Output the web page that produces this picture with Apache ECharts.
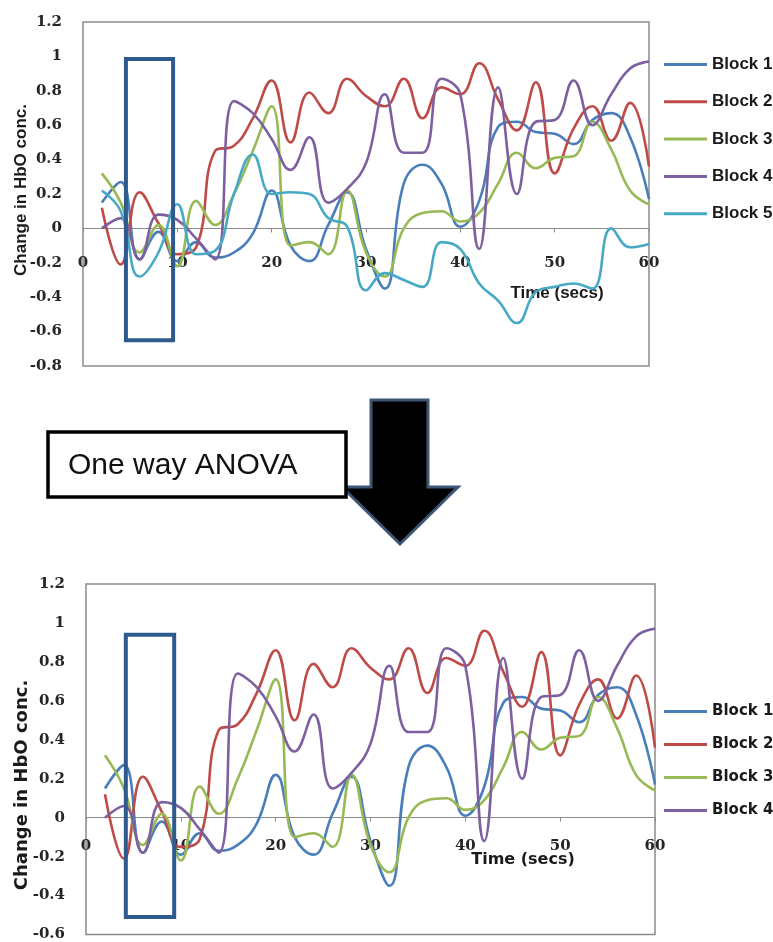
<!DOCTYPE html>
<html>
<head>
<meta charset="utf-8">
<title>Change in HbO concentration by block</title>
<script src="https://cdn.jsdelivr.net/npm/echarts@6/dist/echarts.min.js"></script>
<style>
  html, body { margin: 0; padding: 0; background: #ffffff; }
  #chart { width: 773px; height: 942px; }
</style>
</head>
<body>
<div id="chart"></div>
<script>
// Sample times (seconds)
const times = [2, 4, 6, 8, 10, 12, 14, 16, 18, 20, 22, 24, 26, 28, 30,
               32, 34, 36, 38, 40, 42, 44, 46, 48, 50, 52, 54, 56, 58, 60];

// Change in HbO concentration per block
const block1 = [0.15, 0.27, -0.18, -0.02, -0.19, -0.08, -0.17, -0.14, -0.03, 0.22, -0.10, -0.19, 0.02, 0.21, -0.12,
                -0.35, 0.26, 0.37, 0.26, 0.01, 0.16, 0.59, 0.62, 0.56, 0.55, 0.49, 0.63, 0.67, 0.53, 0.17];
const block2 = [0.12, -0.21, 0.21, 0.03, -0.15, -0.11, 0.45, 0.48, 0.64, 0.86, 0.50, 0.79, 0.67, 0.87, 0.77,
                0.71, 0.87, 0.64, 0.82, 0.78, 0.96, 0.75, 0.57, 0.85, 0.32, 0.58, 0.71, 0.51, 0.73, 0.36];
const block3 = [0.32, 0.15, -0.14, 0.02, -0.22, 0.16, 0.02, 0.20, 0.45, 0.71, -0.10, -0.08, -0.15, 0.22, -0.14,
                -0.28, 0.00, 0.09, 0.10, 0.04, 0.09, 0.26, 0.44, 0.35, 0.41, 0.42, 0.62, 0.46, 0.22, 0.14];
const block4 = [0.00, 0.06, -0.18, 0.08, 0.05, -0.06, -0.18, 0.74, 0.67, 0.52, 0.34, 0.53, 0.15, 0.23, 0.38,
                0.78, 0.44, 0.44, 0.87, 0.78, -0.12, 0.82, 0.20, 0.62, 0.63, 0.86, 0.60, 0.78, 0.93, 0.97];
const block5 = [0.22, 0.10, -0.28, -0.14, 0.14, -0.15, -0.13, 0.20, 0.43, 0.20, 0.21, 0.20, 0.06, 0.01, -0.36,
                -0.26, -0.30, -0.34, -0.08, -0.12, -0.32, -0.42, -0.55, -0.37, -0.34, -0.32, -0.35, 0.00, -0.11, -0.09];

const blockNames = ['Block 1', 'Block 2', 'Block 3', 'Block 4', 'Block 5'];
const blockValues = [block1, block2, block3, block4, block5];
const blockColors = ['#4a7ebb', '#be4b48', '#98b954', '#7d60a0', '#46aac5'];

// Value ranges of the two panels
const yMaxAll = 1.2, yMinAll = -0.8;
const yMaxAnova = 1.2, yMinAnova = -0.6;

// Highlighted time windows (data coordinates): [x0, y0, x1, y1]
const windowAll = [4.55, 0.985, 9.55, -0.65];
const windowAnova = [4.2, 0.94, 9.3, -0.51];

// Plot areas
const gridAll = { left: 83, top: 22, width: 566, height: 344 };
const gridAnova = { left: 86, top: 584, width: 569, height: 351 };

const tickFont = { fontFamily: 'DejaVu Serif', fontWeight: 'bold', fontSize: 15, color: '#262626' };

function pairs(values) {
  return times.map((t, i) => [t, values[i]]);
}

function lineSeries(idx, axisIdx) {
  return {
    name: blockNames[idx],
    type: 'line',
    xAxisIndex: axisIdx,
    yAxisIndex: axisIdx,
    data: pairs(blockValues[idx]),
    smooth: 0.45,
    symbol: 'none',
    lineStyle: { width: 2.6, color: blockColors[idx] },
    itemStyle: { color: blockColors[idx] },
    z: 2 + idx * 0.01
  };
}

function windowSeries(axisIdx, w) {
  return {
    type: 'line',
    xAxisIndex: axisIdx,
    yAxisIndex: axisIdx,
    data: [],
    silent: true,
    z: 10,
    markArea: {
      silent: true,
      z: 10,
      label: { show: false },
      itemStyle: { color: 'rgba(0,0,0,0)', borderColor: '#2f5a8e', borderWidth: 4 },
      data: [[{ coord: [w[0], w[1]] }, { coord: [w[2], w[3]] }]]
    }
  };
}

// The time axis crosses the value axis at zero: shift it up from the bottom edge
function xAxis(gridIdx, grid, yMin, yMax, margin) {
  return {
    type: 'value',
    gridIndex: gridIdx,
    position: 'bottom',
    offset: -grid.height * (0 - yMin) / (yMax - yMin),
    min: 0, max: 60, interval: 10,
    axisLine: { onZero: false, lineStyle: { color: '#8a8a8a', width: 1 } },
    axisTick: { show: true, length: 4, lineStyle: { color: '#8a8a8a' } },
    axisLabel: Object.assign({ margin: margin }, tickFont),
    splitLine: { show: false }
  };
}

function yAxis(gridIdx, yMin, yMax) {
  return {
    type: 'value',
    gridIndex: gridIdx,
    min: yMin, max: yMax, interval: 0.2,
    axisLine: { show: false, onZero: false },
    axisTick: { show: false },
    axisLabel: Object.assign({ margin: 21 }, tickFont),
    splitLine: { show: false }
  };
}

const series = [];
for (let i = 0; i < 5; i++) series.push(lineSeries(i, 0));
series.push(windowSeries(0, windowAll));
for (let i = 0; i < 4; i++) series.push(lineSeries(i, 1));
series.push(windowSeries(1, windowAnova));

const gridStyle = { show: true, borderColor: '#8a8a8a', borderWidth: 1.5, backgroundColor: 'transparent' };

const chart = echarts.init(document.getElementById('chart'), null, { renderer: 'canvas' });
chart.setOption({
  animation: false,
  backgroundColor: '#ffffff',
  grid: [Object.assign({}, gridAll, gridStyle), Object.assign({}, gridAnova, gridStyle)],
  xAxis: [xAxis(0, gridAll, yMinAll, yMaxAll, 27), xAxis(1, gridAnova, yMinAnova, yMaxAnova, 21)],
  yAxis: [yAxis(0, yMinAll, yMaxAll), yAxis(1, yMinAnova, yMaxAnova)],
  legend: [
    {
      orient: 'vertical', left: 659, top: 51,
      icon: 'rect', itemWidth: 43, itemHeight: 3, itemGap: 20.3,
      data: blockNames,
      textStyle: { fontFamily: 'Liberation Sans', fontWeight: 'bold', fontSize: 17, color: '#1a1a1a' }
    },
    {
      orient: 'vertical', left: 659, top: 699,
      icon: 'rect', itemWidth: 43, itemHeight: 3, itemGap: 18,
      data: blockNames.slice(0, 4),
      textStyle: { fontFamily: 'DejaVu Sans', fontWeight: 'bold', fontSize: 15, color: '#1a1a1a' }
    }
  ],
  series: series,
  graphic: [
    // axis titles
    { type: 'text', x: 21, y: 190, rotation: Math.PI / 2, silent: true,
      style: { text: 'Change in HbO conc.', align: 'center', verticalAlign: 'middle',
               font: 'bold 17px "Liberation Sans"', fill: '#1a1a1a' } },
    { type: 'text', x: 557, y: 293, silent: true,
      style: { text: 'Time (secs)', align: 'center', verticalAlign: 'middle',
               font: 'bold 17px "Liberation Sans"', fill: '#1a1a1a' } },
    { type: 'text', x: 22, y: 785, rotation: Math.PI / 2, silent: true,
      style: { text: 'Change in HbO conc.', align: 'center', verticalAlign: 'middle',
               font: 'bold 18px "DejaVu Sans"', fill: '#1a1a1a' } },
    { type: 'text', x: 523, y: 860, silent: true,
      style: { text: 'Time (secs)', align: 'center', verticalAlign: 'middle',
               font: 'bold 16px "DejaVu Sans"', fill: '#1a1a1a' } },
    // downward arrow between the panels
    { type: 'polygon', silent: true, z: 20,
      shape: { points: [[371, 400], [428, 400], [428, 487], [458, 487], [400, 544], [342, 487], [371, 487]] },
      style: { fill: '#000000', stroke: '#3d5677', lineWidth: 3 } },
    // method label box
    { type: 'rect', silent: true, z: 21,
      shape: { x: 48, y: 432, width: 298, height: 65 },
      style: { fill: '#ffffff', stroke: '#000000', lineWidth: 3.5 } },
    { type: 'text', x: 68, y: 466, silent: true, z: 22,
      style: { text: 'One way ANOVA', align: 'left', verticalAlign: 'middle',
               font: '30px "Liberation Sans"', fill: '#111111' } }
  ]
});
</script>
</body>
</html>
